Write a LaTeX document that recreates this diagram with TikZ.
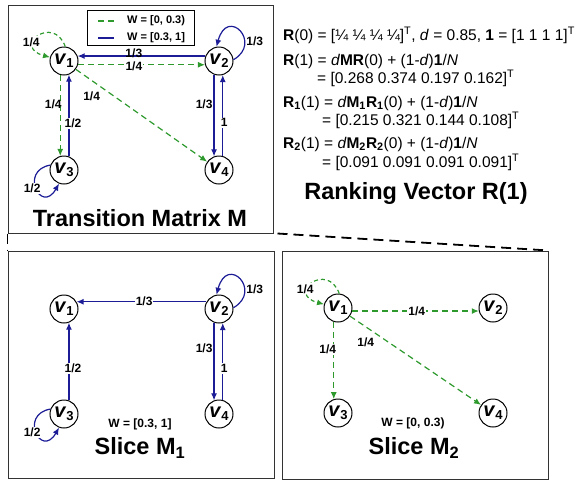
\documentclass[tikz,border=0pt]{standalone}
\usepackage{fontspec}
\setmainfont{Liberation Sans}
\usepackage{xcolor}
\definecolor{LowGreen}{HTML}{2E9A2E}
\definecolor{HighBlue}{HTML}{1C1C96}
\usetikzlibrary{arrows.meta,positioning}
\newcommand{\vtx}[1]{\textit{v}\raisebox{-3pt}{\fontsize{13}{13}\selectfont #1}}

\begin{document}
\begin{tikzpicture}[
  x=1pt, y=1pt,
  vert/.style={circle, draw, line width=1pt, minimum size=28pt, inner sep=0pt,
               font=\bfseries\fontsize{20}{20}\selectfont},
  panel/.style={draw=black!80, line width=1pt, inner sep=0pt},
  lbl/.style={font=\bfseries\fontsize{12}{12}\selectfont, inner sep=1pt, text=black},
  keytxt/.style={lbl, font=\bfseries\fontsize{11}{11}\selectfont, anchor=west},
  heading/.style={font=\bfseries\fontsize{23.5}{23.5}\selectfont, inner sep=0pt},
  eq/.style={anchor=base west, inner sep=0pt, font=\fontsize{15.5}{15.5}\selectfont},
  lowline/.style={LowGreen, line width=1.2pt, dash pattern=on 6pt off 4pt},
  highline/.style={HighBlue, line width=1.2pt},
  wlow/.style={lowline, -{Latex[length=7pt, width=6pt]}},
  whigh/.style={highline, -{Latex[length=7pt, width=6pt]}},
  loopdash/.style={dash pattern=on 4pt off 3pt},
  zoomline/.style={line width=1.8pt, dash pattern=on 10pt off 6pt}
]
  \useasboundingbox (0,0) rectangle (576,-483);

  \node[panel, minimum width=265pt, minimum height=228pt] (mframe) at (140.5,-119) {};
  \node[panel, minimum width=266pt, minimum height=227pt] (aframe) at (141,-364.5) {};
  \node[panel, minimum width=266pt, minimum height=228pt] (bframe) at (415,-365) {};
  \draw[zoomline] (mframe.south west) -- (aframe.north west);
  \draw[zoomline] ([xshift=4pt]mframe.south east) -- (bframe.north east);

  % transition matrix M
  \node[draw, line width=0.8pt, minimum width=107pt, minimum height=35pt]
    (legend) at (140.5,-27.5) {};
  \node[keytxt] (lowkey) at (126,-21) {W = [0, 0.3)};
  \node[keytxt] (highkey) at (126,-38) {W = [0.3, 1]};
  \draw[lowline] ([xshift=-28pt]lowkey.west) -- ([xshift=-12pt]lowkey.west);
  \draw[highline] ([xshift=-28pt]highkey.west) -- ([xshift=-12pt]highkey.west);

  \node[vert] (m1) at (64,-61) {\vtx{1}};
  \node[vert, right=126pt of m1] (m2) {\vtx{2}};
  \node[vert, below=80pt of m1] (m3) {\vtx{3}};
  \node[vert, below=80pt of m2] (m4) {\vtx{4}};
  \draw[whigh] (m2.160) -- node[lbl, pos=0.56, above=-3pt] {1/3} (m1.20);
  \draw[wlow] (m1.-15) -- node[lbl, pos=0.44, fill=white, yshift=-2pt] {1/4} (m2.195);
  \draw[wlow] (m1.255) -- node[lbl, pos=0.36, left=-3pt] {1/4} (m3.105);
  \draw[whigh] (m3.70) -- node[lbl, pos=0.4, fill=white, xshift=4pt] {1/2} (m1.290);
  \draw[wlow] (m1) -- node[lbl, pos=0.12, below=10pt] {1/4} (m4);
  \draw[whigh] (m2.250) -- node[lbl, pos=0.365, left=0pt] {1/3} (m4.110);
  \draw[whigh] (m4.75) -- node[lbl, pos=0.41, fill=white, xshift=1.5pt] {1} (m2.285);
  \draw[wlow, loopdash] (m1.85) .. controls +(110:35) and +(165:40) ..
    node[lbl, pos=0.65, fill=white, xshift=-3pt] {1/4} (m1.165);
  \draw[whigh] (m2.5) .. controls +(30:34) and +(75:42) ..
    node[lbl, pos=0.3, right=0pt] {1/3} (m2.100);
  \draw[whigh] (m3.160) .. controls +(190:32) and +(240:36) ..
    node[lbl, pos=0.5, fill=white, xshift=-4pt] {1/2} (m3.250);
  \node[heading] (mtitle) at (140,-218) {Transition Matrix M};

  % ranking vector
  \node[eq] (r0) at (283,-40) {\textbf{R}(0) = [¼ ¼ ¼ ¼]\textsuperscript{T}, \textit{d} = 0.85, \textbf{1} = [1 1 1 1]\textsuperscript{T}};
  \node[eq] (r1) at (283,-65) {\textbf{R}(1) = \textit{d}\textbf{MR}(0) + (1-\textit{d})\textbf{1}/\textit{N}};
  \node[eq] (r1v) at (317,-83) {= [0.268 0.374 0.197 0.162]\textsuperscript{T}};
  \node[eq] (s1) at (283,-107) {\textbf{R\textsubscript{1}}(1) = \textit{d}\textbf{M\textsubscript{1}R\textsubscript{1}}(0) + (1-\textit{d})\textbf{1}/\textit{N}};
  \node[eq] (s1v) at (322,-125) {= [0.215 0.321 0.144 0.108]\textsuperscript{T}};
  \node[eq] (s2) at (283,-148) {\textbf{R\textsubscript{2}}(1) = \textit{d}\textbf{M\textsubscript{2}R\textsubscript{2}}(0) + (1-\textit{d})\textbf{1}/\textit{N}};
  \node[eq] (s2v) at (322,-167) {= [0.091 0.091 0.091 0.091]\textsuperscript{T}};
  \node[heading] (rtitle) at (416,-193) {Ranking Vector R(1)};

  % slice M1
  \node[vert] (p1) at (64,-309) {\vtx{1}};
  \node[vert, right=126pt of p1] (p2) {\vtx{2}};
  \node[vert, below=76pt of p1] (p3) {\vtx{3}};
  \node[vert, below=76pt of p2] (p4) {\vtx{4}};
  \draw[whigh] (p2.150) -- node[lbl, pos=0.48, fill=white] {1/3} (p1.30);
  \draw[whigh] (p2.250) -- node[lbl, pos=0.33, left=0pt] {1/3} (p4.110);
  \draw[whigh] (p4.75) -- node[lbl, pos=0.41, fill=white, xshift=1.5pt] {1} (p2.285);
  \draw[whigh] (p3.70) -- node[lbl, pos=0.41, fill=white, xshift=4pt] {1/2} (p1.290);
  \draw[whigh] (p2.5) .. controls +(30:34) and +(75:42) ..
    node[lbl, pos=0.3, right=0pt] {1/3} (p2.100);
  \draw[whigh] (p3.160) .. controls +(190:32) and +(240:36) ..
    node[lbl, pos=0.5, fill=white, xshift=-4pt] {1/2} (p3.250);
  \node[lbl] (pw) at (140,-424) {W = [0.3, 1]};
  \node[heading] (ptitle) at (140,-448) {Slice M\textsubscript{1}};

  % slice M2
  \node[vert] (q1) at (338,-308) {\vtx{1}};
  \node[vert, right=126pt of q1] (q2) {\vtx{2}};
  \node[vert, below=76pt of q1] (q3) {\vtx{3}};
  \node[vert, below=76pt of q2] (q4) {\vtx{4}};
  \draw[wlow] (q1.-12) -- node[lbl, pos=0.51, fill=white] {1/4} (q2.192);
  \draw[wlow] (q1.253) -- node[lbl, pos=0.36, fill=white, xshift=-6pt] {1/4} (q3.107);
  \draw[wlow] (q1) -- node[lbl, pos=0.12, below=9pt] {1/4} (q4);
  \draw[wlow, loopdash] (q1.85) .. controls +(110:35) and +(165:40) ..
    node[lbl, pos=0.65, fill=white, xshift=-3pt] {1/4} (q1.165);
  \node[lbl] (qw) at (413,-423) {W = [0, 0.3)};
  \node[heading] (qtitle) at (414,-448) {Slice M\textsubscript{2}};
\end{tikzpicture}
\end{document}
